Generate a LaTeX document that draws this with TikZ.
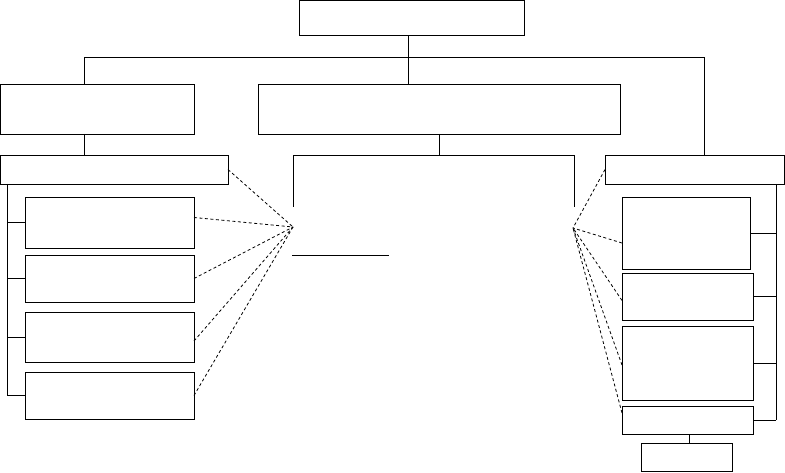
\documentclass[tikz,border=0pt]{standalone}
\usepackage{tikz}

\begin{document}
\begin{tikzpicture}[x=1pt,y=-1pt,line width=0.9pt]
  \tikzstyle{box}=[draw=black,fill=none,anchor=north west,inner sep=0pt,outer sep=0pt]
  \tikzstyle{link}=[draw=black,dash pattern=on 3pt off 2.5pt,line width=0.8pt]
  \useasboundingbox (0,0) rectangle (785,473);

  % boxes
  \node[box,minimum width=225pt,minimum height=35pt] (root) at (299,0.5) {};
  \node[box,minimum width=193.5pt,minimum height=50pt] (left) at (0.5,84) {};
  \node[box,minimum width=362pt,minimum height=50pt] (mid) at (258,84) {};
  \node[box,minimum width=227.5pt,minimum height=29pt] (lhead) at (0.5,155) {};
  \node[box,minimum width=179pt,minimum height=29pt] (rhead) at (605,155) {};

  \node[box,minimum width=169pt,minimum height=51pt] (L1) at (25,197) {};
  \node[box,minimum width=169pt,minimum height=47pt] (L2) at (25,255) {};
  \node[box,minimum width=169pt,minimum height=50pt] (L3) at (25,312) {};
  \node[box,minimum width=169pt,minimum height=47pt] (L4) at (25,372) {};

  \node[box,minimum width=128pt,minimum height=72pt] (R1) at (622,197) {};
  \node[box,minimum width=131pt,minimum height=47pt] (R2) at (622,273) {};
  \node[box,minimum width=131pt,minimum height=74pt] (R3) at (622,326) {};
  \node[box,minimum width=131pt,minimum height=28pt] (R4) at (622,406) {};
  \node[box,minimum width=91pt,minimum height=28.5pt] (end) at (641,443) {};

  % helper points
  \coordinate (rootc) at (408,0);
  \coordinate (busL) at (84,57);
  \coordinate (busR) at (704,57);
  \coordinate (midc) at (439,0);
  \coordinate (subL) at (293,155);
  \coordinate (subR) at (574,155);
  \coordinate (stubL) at (293,207);
  \coordinate (stubR) at (574,207);
  \coordinate (fanL) at (293,227);
  \coordinate (fanR) at (573,228);
  \coordinate (lineA) at (292,255);
  \coordinate (lineB) at (389,255);
  \coordinate (brL) at (7,0);
  \coordinate (brR) at (776,0);
  \coordinate (endc) at (689,0);

  % tree
  \draw (root.south -| rootc) -- (mid.north -| rootc);
  \draw (busL |- left.north) -- (busL) -- (busR) -- (busR |- rhead.north);
  \draw (busL |- left.south) -- (busL |- lhead.north);
  \draw (mid.south -| midc) -- (midc |- subL);
  \draw (stubL) -- (subL) -- (subR) -- (stubR);
  \draw (lineA) -- (lineB);
  \draw (R4.south -| endc) -- (end.north -| endc);

  % brackets
  \draw (brL |- lhead.south) -- (brL |- L4.west);
  \foreach \n in {L1,L2,L3,L4}
    \draw (brL |- \n.west) -- (\n.west);
  \draw (brR |- rhead.south) -- (brR |- R4.east);
  \foreach \n in {R1,R2,R3,R4}
    \draw (brR |- \n.east) -- (\n.east);

  % dashed links
  \path[link] (lhead.east) -- (fanL);
  \path[link] ([yshift=5pt]L1.east) -- (fanL);
  \path[link] (L2.east) -- (fanL);
  \path[link] ([yshift=-4pt]L3.east) -- (fanL);
  \path[link] (L4.east) -- (fanL);

  \path[link] (rhead.west) -- (fanR);
  \path[link] ([yshift=-10pt]R1.west) -- (fanR);
  \path[link] ([yshift=-4pt]R2.west) -- (fanR);
  \path[link] ([yshift=-2pt]R3.west) -- (fanR);
  \path[link] ([yshift=7pt]R4.west) -- (fanR);

\end{tikzpicture}
\end{document}
